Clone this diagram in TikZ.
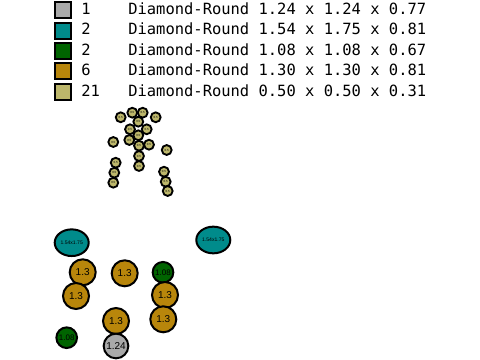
\documentclass[tikz,border=0pt]{standalone}
\usetikzlibrary{shapes.geometric}
\usepackage{fontspec}
\setmainfont{Liberation Sans}
\newfontfamily\legfont{DejaVu Sans Mono}
\definecolor{cgray}{HTML}{A9A9A9}
\definecolor{cteal}{HTML}{008B8B}
\definecolor{cgreen}{HTML}{006400}
\definecolor{cgold}{HTML}{B8860B}
\definecolor{ckhaki}{HTML}{BDB76B}
\begin{document}
\begin{tikzpicture}[x=0.75pt,y=-0.75pt,
  legbox/.style={draw=black,line width=1.5pt,minimum size=12pt,inner sep=0pt},
  legtext/.style={anchor=base west,inner sep=0pt,font=\legfont\fontsize{11.6pt}{12pt}\selectfont},
  small/.style={circle,draw=black,line width=1.4pt,fill=ckhaki,minimum size=7.4pt,inner sep=0pt,font=\fontsize{2.2pt}{2.4pt}\selectfont},
  big/.style={circle,draw=black,line width=1.5pt,minimum size=19.5pt,inner sep=0pt,font=\fontsize{7.5pt}{8pt}\selectfont},
  gold/.style={big,fill=cgold},
  green/.style={big,fill=cgreen,minimum size=15.5pt,font=\fontsize{6pt}{7pt}\selectfont},
  grey/.style={big,fill=cgray,minimum size=18.5pt},
  teal/.style={ellipse,draw=black,line width=1.5pt,fill=cteal,minimum width=25.5pt,minimum height=20pt,inner sep=0pt,font=\fontsize{3.8pt}{4pt}\selectfont}]
\useasboundingbox (0,0) rectangle (480,360);
% legend
\node[legbox,fill=cgray]  (s1) at (63,10.3) {};
\node[legbox,fill=cteal]  (s2) at (63,30.7) {};
\node[legbox,fill=cgreen] (s3) at (63,51.1) {};
\node[legbox,fill=cgold]  (s4) at (63,71.5) {};
\node[legbox,fill=ckhaki] (s5) at (63,91.9) {};
\node[legtext] (c1) at (81,14.2) {1};
\node[legtext] (c2) at (81,34.7) {2};
\node[legtext] (c3) at (81,55.3) {2};
\node[legtext] (c4) at (81,75.9) {6};
\node[legtext] (c5) at (81,96.5) {21};
\node[legtext] (t1) at (128,14.2) {Diamond-Round 1.24 x 1.24 x 0.77};
\node[legtext] (t2) at (128,34.7) {Diamond-Round 1.54 x 1.75 x 0.81};
\node[legtext] (t3) at (128,55.3) {Diamond-Round 1.08 x 1.08 x 0.67};
\node[legtext] (t4) at (128,75.9) {Diamond-Round 1.30 x 1.30 x 0.81};
\node[legtext] (t5) at (128,96.5) {Diamond-Round 0.50 x 0.50 x 0.31};
% small stones
\node[small] (k1) at (120.7,117.3) {0.5};
\node[small] (k2) at (132.3,112.7) {0.5};
\node[small] (k3) at (142.7,112.7) {0.5};
\node[small] (k4) at (155.7,117.3) {0.5};
\node[small] (k5) at (138.3,121.7) {0.5};
\node[small] (k6) at (130,129.3) {0.5};
\node[small] (k7) at (146.7,129.3) {0.5};
\node[small] (k8) at (138.3,135.3) {0.5};
\node[small] (k9) at (113.3,142) {0.5};
\node[small] (k10) at (129.3,140) {0.5};
\node[small] (k11) at (139,145.7) {0.5};
\node[small] (k12) at (149,144.7) {0.5};
\node[small] (k13) at (166.7,150) {0.5};
\node[small] (k14) at (139,156) {0.5};
\node[small] (k15) at (115.7,162.7) {0.5};
\node[small] (k16) at (139,166) {0.5};
\node[small] (k17) at (114.3,172.7) {0.5};
\node[small] (k18) at (164,171.7) {0.5};
\node[small] (k19) at (113.3,182.7) {0.5};
\node[small] (k20) at (165.7,181.7) {0.5};
\node[small] (k21) at (167.7,191) {0.5};
% large stones
\node[teal] (e1) at (71.7,242.7) {1.54x1.75};
\node[teal] (e2) at (213.3,240) {1.54x1.75};
\node[gold] (g1) at (82.7,272.3) {1.3};
\node[gold] (g2) at (124.7,273.3) {1.3};
\node[green] (n1) at (163,272.3) {1.08};
\node[gold] (g3) at (76,296) {1.3};
\node[gold] (g4) at (165,295) {1.3};
\node[gold] (g5) at (163.3,319.3) {1.3};
\node[gold] (g6) at (116,321) {1.3};
\node[green] (n2) at (66.7,337.7) {1.08};
\node[grey] (h1) at (116,346) {1.24};
\end{tikzpicture}
\end{document}
